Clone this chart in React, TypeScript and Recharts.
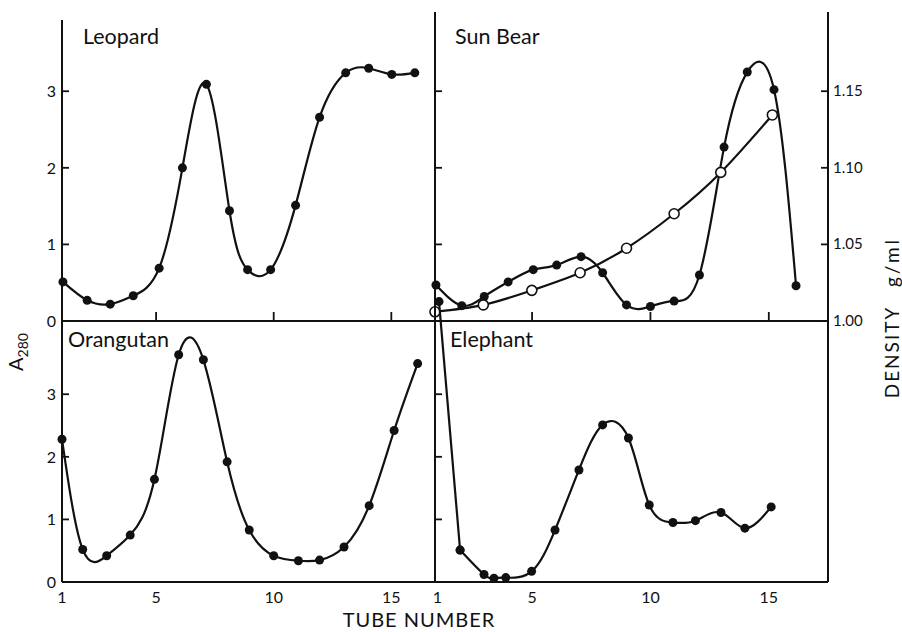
import { Line, LineChart, XAxis, YAxis } from "recharts";

const W = 902;
const H = 632;
const INK = "#111";
const FONT = "Lato, 'Noto Sans', sans-serif";

// tick values
const TUBE_TICKS = [1, 5, 10, 15];
const A280_TICKS = [0, 1, 2, 3];
const A280_TICKS_NOLABEL = [1, 2, 3];
const DENSITY_TICKS = [1.0, 1.05, 1.1, 1.15];

// Leopard (top left)
const leopardTube = [1.04, 2.07, 3.05, 4.03, 5.13, 6.12, 7.14, 8.12, 8.89, 9.87, 10.93, 11.95, 13.06, 14.04, 15.02, 16.0];
const leopardA280 = [0.51, 0.27, 0.22, 0.33, 0.69, 2.0, 3.09, 1.44, 0.67, 0.67, 1.51, 2.66, 3.24, 3.3, 3.22, 3.24];

// Sun Bear (top right): absorbance + density gradient
const sunBearTube = [0.94, 2.03, 2.98, 3.99, 5.05, 6.04, 7.07, 7.98, 8.99, 10.0, 11.0, 12.07, 13.11, 14.09, 15.22, 16.15];
const sunBearA280 = [0.47, 0.2, 0.32, 0.51, 0.67, 0.73, 0.84, 0.63, 0.21, 0.19, 0.26, 0.6, 2.27, 3.25, 3.02, 0.46];
const densityTube = [0.9, 2.94, 4.99, 7.03, 8.99, 11.0, 12.97, 15.15];
const densityGml = [1.006, 1.0105, 1.02, 1.0315, 1.0475, 1.07, 1.097, 1.1345];

// Orangutan (bottom left)
const orangutanTube = [1.0, 1.88, 2.9, 3.9, 4.93, 5.96, 7.01, 8.02, 8.96, 10.0, 11.05, 11.95, 12.99, 14.06, 15.12, 16.12];
const orangutanA280 = [2.28, 0.52, 0.42, 0.75, 1.64, 3.63, 3.55, 1.92, 0.83, 0.42, 0.34, 0.35, 0.56, 1.22, 2.42, 3.49];

// Elephant (bottom right) - first tube is off scale, drawn above the panel
const elephantTube = [1.07, 1.96, 2.97, 3.39, 3.89, 4.98, 5.97, 6.98, 7.98, 9.07, 9.95, 10.95, 11.9, 12.98, 13.99, 15.1];
const elephantA280 = [4.48, 0.51, 0.12, 0.06, 0.07, 0.17, 0.83, 1.79, 2.51, 2.3, 1.23, 0.95, 0.98, 1.11, 0.86, 1.2];

const rows = (ts: number[], vs: number[], key: string) => ts.map((t, i) => ({ t, [key]: vs[i] }));

const leopardRows = rows(leopardTube, leopardA280, "a");
const sunBearRows = rows(sunBearTube, sunBearA280, "a");
const densityRows = rows(densityTube, densityGml, "d");
const orangutanRows = rows(orangutanTube, orangutanA280, "a");
const elephantRows = rows(elephantTube, elephantA280, "a");

const axisLine = { stroke: INK, strokeWidth: 2 };
const filledDot = { r: 4.5, fill: INK, stroke: INK, strokeWidth: 0 };
const openDot = { r: 5, fill: "#fff", stroke: INK, strokeWidth: 1.6 };

// plot box in page pixels -> chart margins (axes are 1px wide so they render)
const box = (x0: number, y0: number, x1: number, y1: number) => ({
  top: y0,
  left: x0 - 1,
  right: W - x1 - 1,
  bottom: H - y1 - 1,
});

function LeftTick(props: any) {
  const { x, y, payload, showLabel } = props;
  const v = payload.value;
  return (
    <g>
      {v !== 0 && <line x1={x} y1={y} x2={x + 7} y2={y} stroke={INK} strokeWidth={1.8} />}
      {showLabel && (
        <text x={x - 6} y={y + 6} textAnchor="end" fontSize={16} fontFamily={FONT} fill={INK}>
          {v}
        </text>
      )}
    </g>
  );
}

function RightTick(props: any) {
  const { x, y, payload } = props;
  return (
    <g>
      <line x1={x - 7} y1={y} x2={x} y2={y} stroke={INK} strokeWidth={1.8} />
      <text x={x + 5} y={y + 5} textAnchor="start" fontSize={15} fontFamily={FONT} fill={INK}>
        {Number(payload.value).toFixed(2)}
      </text>
    </g>
  );
}

function BottomTick(props: any) {
  const { x, y, payload, showLabel, showLine } = props;
  const v = payload.value;
  return (
    <g>
      {showLine && v !== 1 && <line x1={x} y1={y} x2={x} y2={y - 9} stroke={INK} strokeWidth={1.8} />}
      {showLabel && (
        <text x={x} y={y + 21} textAnchor="middle" fontSize={16} fontFamily={FONT} fill={INK}>
          {v}
        </text>
      )}
    </g>
  );
}

function Layer({ children }: { children: any }) {
  return <div style={{ position: "absolute", left: 0, top: 0 }}>{children}</div>;
}

const xProps = {
  type: "number" as const,
  dataKey: "t",
  ticks: TUBE_TICKS,
  interval: 0,
  height: 1,
  tickSize: 0,
  tickMargin: 0,
  tickLine: false,
  axisLine,
};

const yProps = {
  type: "number" as const,
  interval: 0,
  width: 1,
  tickSize: 0,
  tickMargin: 0,
  tickLine: false,
  axisLine,
};

export default function App() {
  return (
    <div style={{ position: "absolute", left: 0, top: 0, width: W, height: H, background: "#fff" }}>
      {/* Leopard */}
      <Layer>
        <LineChart width={W} height={H} data={leopardRows} margin={box(62, 20, 435, 321)}>
          <XAxis {...xProps} domain={[1, 16.9]} tick={<BottomTick showLine showLabel={false} />} />
          <YAxis {...yProps} domain={[0, 3.93]} ticks={A280_TICKS} tick={<LeftTick showLabel />} />
          <Line type="natural" dataKey="a" stroke={INK} strokeWidth={2.2} dot={filledDot} activeDot={false} isAnimationActive={false} />
        </LineChart>
      </Layer>

      {/* Sun Bear */}
      <Layer>
        <LineChart width={W} height={H} margin={box(435, 12, 828, 321)}>
          <XAxis {...xProps} domain={[0.9, 17.5]} tick={<BottomTick showLine showLabel={false} />} />
          <YAxis {...yProps} yAxisId="a" domain={[0, 4.034]} ticks={A280_TICKS_NOLABEL} tick={<LeftTick showLabel={false} />} />
          <YAxis {...yProps} yAxisId="d" orientation="right" domain={[1, 1.2017]} ticks={DENSITY_TICKS} tick={<RightTick />} />
          <Line yAxisId="a" data={sunBearRows} type="natural" dataKey="a" stroke={INK} strokeWidth={2.2} dot={filledDot} activeDot={false} isAnimationActive={false} />
          <Line yAxisId="d" data={densityRows} type="natural" dataKey="d" stroke={INK} strokeWidth={2.2} dot={openDot} activeDot={false} isAnimationActive={false} />
        </LineChart>
      </Layer>

      {/* Orangutan */}
      <Layer>
        <LineChart width={W} height={H} data={orangutanRows} margin={box(62, 321, 435, 582)}>
          <XAxis {...xProps} domain={[1, 16.9]} tick={<BottomTick showLine={false} showLabel />} />
          <YAxis {...yProps} domain={[0, 4.17]} ticks={A280_TICKS} tick={<LeftTick showLabel />} />
          <Line type="natural" dataKey="a" stroke={INK} strokeWidth={2.2} dot={filledDot} activeDot={false} isAnimationActive={false} />
        </LineChart>
      </Layer>

      {/* Elephant */}
      <Layer>
        <LineChart width={W} height={H} margin={box(435, 295, 828, 582)}>
          <XAxis {...xProps} domain={[0.9, 17.5]} tick={<BottomTick showLine={false} showLabel />} />
          <YAxis {...yProps} yAxisId="a" domain={[0, 4.585]} ticks={A280_TICKS_NOLABEL} tick={<LeftTick showLabel={false} />} />
          <YAxis {...yProps} yAxisId="r" orientation="right" domain={[0, 4.585]} ticks={[]} tick={false} />
          <Line yAxisId="a" data={elephantRows.slice(0, 2)} type="linear" dataKey="a" stroke={INK} strokeWidth={2.2} dot={filledDot} activeDot={false} isAnimationActive={false} />
          <Line yAxisId="a" data={elephantRows.slice(1)} type="natural" dataKey="a" stroke={INK} strokeWidth={2.2} dot={filledDot} activeDot={false} isAnimationActive={false} />
        </LineChart>
      </Layer>

      {/* panel names and axis titles */}
      <svg width={W} height={H} style={{ position: "absolute", left: 0, top: 0, pointerEvents: "none" }} fontFamily={FONT} fill={INK}>
        <text x={83} y={44} fontSize={21.5}>Leopard</text>
        <text x={455} y={44} fontSize={21.5}>Sun Bear</text>
        <text x={68} y={347} fontSize={21.5}>Orangutan</text>
        <text x={450} y={347} fontSize={21.5}>Elephant</text>
        <text x={419} y={627} fontSize={20} textAnchor="middle" letterSpacing={1}>TUBE NUMBER</text>
        <text transform="translate(23 352) rotate(-90)" textAnchor="middle" fontSize={20}>
          A<tspan fontSize={14} dy={5}>280</tspan>
        </text>
        <text transform="translate(899 352) rotate(-90)" textAnchor="middle" fontSize={19} letterSpacing={2}>DENSITY</text>
        <text transform="translate(899 262) rotate(-90)" textAnchor="middle" fontSize={19} letterSpacing={3}>g/ml</text>
      </svg>
    </div>
  );
}
